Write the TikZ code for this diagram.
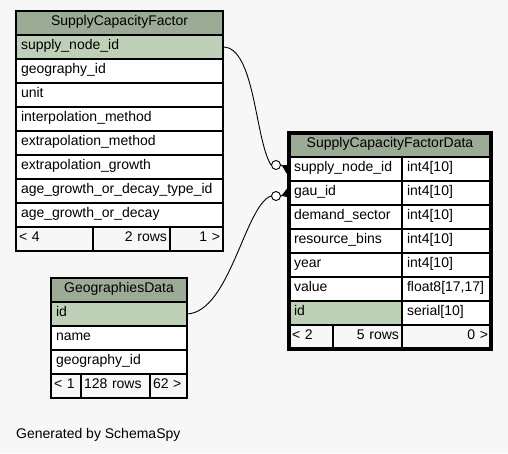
\documentclass[tikz,border=0pt]{standalone}
\usepackage{fontspec}
\setmainfont{Liberation Sans}
\usetikzlibrary{arrows.meta}
\definecolor{pagebg}{HTML}{F7F7F7}
\definecolor{headbg}{HTML}{9BAB96}
\definecolor{keybg}{HTML}{BED1B8}
\begin{document}
\begin{tikzpicture}[x=1pt,y=-1pt]
		\newcommand{\rowh}{24} % height of one row
		\newcommand{\scfx}{16}
		\newcommand{\scfy}{11}
		\newcommand{\datx}{289}
		\newcommand{\daty}{133}
		\newcommand{\geox}{51}
		\newcommand{\geoy}{278}
		
		% set the style of the cells
		\tikzset{
			cell/.style={
				draw,
				line width=1.6pt,
				fill=white,
				anchor=north west,
				outer sep=0pt,
				inner xsep=5pt,
				inner ysep=0pt,
				minimum height=24pt,
				text height=9pt,
				text depth=4.5pt,
				align=left,
				font=\fontsize{14}{16}\selectfont
				},
			head/.style={cell, fill=headbg, align=center},
			key/.style={cell, fill=keybg},
			foot/.style={cell, fill=pagebg, inner xsep=3pt},
			link/.style={line width=0.9pt},
			ring/.style={circle, draw, line width=0.9pt, fill=white, minimum size=9pt, inner sep=0pt},
			crow/.style={line width=0.9pt, -{Triangle[reversed, length=8pt, width=10pt]}}
		}
		
		% background
		\fill[pagebg] (0,0) rectangle (508,453);
		\useasboundingbox (0,0) rectangle (508,453);
		
		% SupplyCapacityFactor
		\node[head, text width=197pt] (scf-title) at (\scfx,\scfy) {SupplyCapacityFactor};
		\node[key, text width=197pt] (scf-supply) at (\scfx,\scfy+1*\rowh) {supply\_node\_id};
		\node[cell, text width=197pt] (scf-geo) at (\scfx,\scfy+2*\rowh) {geography\_id};
		\node[cell, text width=197pt] (scf-unit) at (\scfx,\scfy+3*\rowh) {unit};
		\node[cell, text width=197pt] (scf-interp) at (\scfx,\scfy+4*\rowh) {interpolation\_method};
		\node[cell, text width=197pt] (scf-extrap) at (\scfx,\scfy+5*\rowh) {extrapolation\_method};
		\node[cell, text width=197pt] (scf-growth) at (\scfx,\scfy+6*\rowh) {extrapolation\_growth};
		\node[cell, text width=197pt] (scf-agetype) at (\scfx,\scfy+7*\rowh) {age\_growth\_or\_decay\_type\_id};
		\node[cell, text width=197pt] (scf-age) at (\scfx,\scfy+8*\rowh) {age\_growth\_or\_decay};
		% footer
		\node[foot, text width=71pt] (scf-foot1) at (\scfx,\scfy+9*\rowh) {< 4};
		\node[foot, text width=71pt, align=right] (scf-foot2) at (\scfx+77,\scfy+9*\rowh) {2 rows};
		\node[foot, text width=47pt, align=right] (scf-foot3) at (\scfx+154,\scfy+9*\rowh) {1 >};
		
		% SupplyCapacityFactorData
		\node[head, text width=192pt] (dat-title) at (\datx,\daty) {SupplyCapacityFactorData};
		\node[cell, text width=103pt] (dat-supply) at (\datx,\daty+1*\rowh) {supply\_node\_id};
		\node[cell, text width=79pt] (dat-supply-t) at (\datx+113,\daty+1*\rowh) {int4[10]};
		\node[cell, text width=103pt] (dat-gau) at (\datx,\daty+2*\rowh) {gau\_id};
		\node[cell, text width=79pt] (dat-gau-t) at (\datx+113,\daty+2*\rowh) {int4[10]};
		\node[cell, text width=103pt] (dat-sector) at (\datx,\daty+3*\rowh) {demand\_sector};
		\node[cell, text width=79pt] (dat-sector-t) at (\datx+113,\daty+3*\rowh) {int4[10]};
		\node[cell, text width=103pt] (dat-bins) at (\datx,\daty+4*\rowh) {resource\_bins};
		\node[cell, text width=79pt] (dat-bins-t) at (\datx+113,\daty+4*\rowh) {int4[10]};
		\node[cell, text width=103pt] (dat-year) at (\datx,\daty+5*\rowh) {year};
		\node[cell, text width=79pt] (dat-year-t) at (\datx+113,\daty+5*\rowh) {int4[10]};
		\node[cell, text width=103pt] (dat-value) at (\datx,\daty+6*\rowh) {value};
		\node[cell, text width=79pt] (dat-value-t) at (\datx+113,\daty+6*\rowh) {float8[17,17]};
		\node[key, text width=103pt] (dat-id) at (\datx,\daty+7*\rowh) {id};
		\node[cell, text width=79pt] (dat-id-t) at (\datx+113,\daty+7*\rowh) {serial[10]};
		% footer
		\node[foot, text width=38pt] (dat-foot1) at (\datx,\daty+8*\rowh) {< 2};
		\node[foot, text width=63pt, align=right] (dat-foot2) at (\datx+44,\daty+8*\rowh) {5 rows};
		\node[foot, text width=83pt, align=right] (dat-foot3) at (\datx+113,\daty+8*\rowh) {0 >};
		% thick frame of the focused table
		\draw[line width=3.2pt] (dat-title.north west) rectangle (dat-foot3.south east);
		
		% GeographiesData
		\node[head, text width=126pt] (geo-title) at (\geox,\geoy) {GeographiesData};
		\node[key, text width=126pt] (geo-id) at (\geox,\geoy+1*\rowh) {id};
		\node[cell, text width=126pt] (geo-name) at (\geox,\geoy+2*\rowh) {name};
		\node[cell, text width=126pt] (geo-geo) at (\geox,\geoy+3*\rowh) {geography\_id};
		% footer
		\node[foot, text width=24pt] (geo-foot1) at (\geox,\geoy+4*\rowh) {< 1};
		\node[foot, text width=63pt] (geo-foot2) at (\geox+30,\geoy+4*\rowh) {128 rows};
		\node[foot, text width=31pt] (geo-foot3) at (\geox+99,\geoy+4*\rowh) {62 >};
		
		% links
		\node[ring] (ring-supply) at (276,165) {};
		\node[ring] (ring-gau) at (276,196) {};
		\draw[link] (scf-supply.east) .. controls (255,47) and (255,140) .. (ring-supply.west);
		\draw[link] (geo-id.east) .. controls (230,312) and (245,205) .. (ring-gau.west);
		\draw[crow] (ring-supply.east) -- (dat-supply.west);
		\draw[crow] (ring-gau.east) -- (dat-gau.west);
		
		% caption
		\node[anchor=base west, inner sep=0pt, font=\fontsize{14}{16}\selectfont] (caption) at (16,438) {Generated by SchemaSpy};
\end{tikzpicture}
\end{document}
